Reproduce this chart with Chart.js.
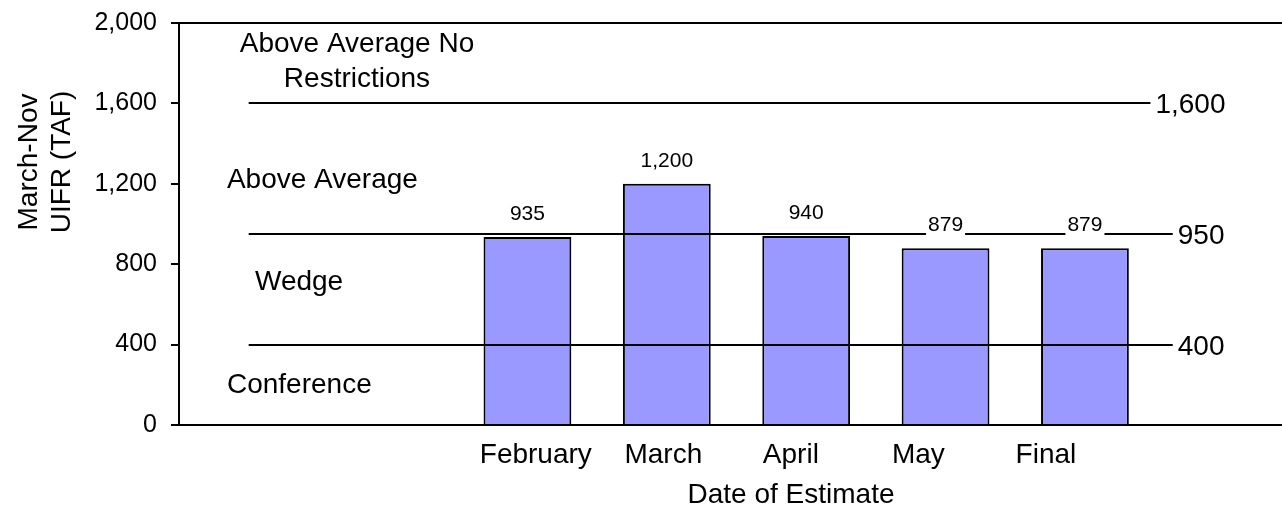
<!DOCTYPE html>
<html>
<head>
<meta charset="utf-8">
<script src="https://cdn.jsdelivr.net/npm/chart.js@4"></script>
<style>
	html, body { margin: 0; padding: 0; background: #fff; overflow: hidden; }
	canvas { display: block; }
</style>
</head>
<body>
<canvas id="grafico" width="1296" height="506"></canvas>
<script>
// dati del grafico (due categorie vuote a sinistra e una a destra, come nell'originale)
const categories = ['', '', 'February', 'March', 'April', 'May', 'Final', ''];
const estimates = [null, null, 935, 1200, 940, 879, 879, null];
const thresholds = [1600, 950, 400];
const zoneLabels = [['Above Average No', 'Restrictions'], ['Above Average'], ['Wedge'], ['Conference']];
const yTicks = [0, 400, 800, 1200, 1600, 2000];
const yTitle = ['March-Nov', 'UIFR (TAF)'];
const xTitle = 'Date of Estimate';

(function(){
	const FONT = "'Liberation Sans', Arial, sans-serif";
	const fmt = v => v.toLocaleString('en-US');

	// etichette dell'asse x: non sono centrate sulle barre nell'originale
	const tickIdx = categories.map((c, i) => c ? i : -1).filter(i => i >= 0);
	const tickPos = tickIdx.map(i => 2.06 + (i - 2) * 0.915);

	// posizioni delle scritte delle zone (in unità di scala)
	const zonePos = [
		{ x: 0.777, y: 1856, align: 'center' },
		{ x: -0.156, y: 1180, align: 'left' },
		{ x: 0.045, y: 673, align: 'left' },
		{ x: -0.156, y: 157, align: 'left' }
	];
	const lineEnds = [6.47, 6.63, 6.63];

	const annotazioni = {
		id: 'annotazioni',
		afterDatasetsDraw(chart){
			const ctx = chart.ctx;
			const x = chart.scales.x, y = chart.scales.y;
			const area = chart.chartArea;
			ctx.save();
			ctx.strokeStyle = '#000';
			ctx.lineWidth = 2;
			ctx.fillStyle = '#000';

			// bordo superiore
			ctx.beginPath();
			ctx.moveTo(area.left - 1, area.top);
			ctx.lineTo(area.right, area.top);
			ctx.stroke();

			// linee di soglia
			ctx.font = '28px ' + FONT;
			ctx.textAlign = 'left';
			ctx.textBaseline = 'middle';
			thresholds.forEach((t, i) => {
				const py = Math.round(y.getPixelForValue(t));
				const x0 = x.getPixelForValue(0);
				const x1 = x.getPixelForValue(lineEnds[i]);
				ctx.beginPath();
				ctx.moveTo(x0, py);
				ctx.lineTo(x1, py);
				ctx.stroke();
				ctx.fillText(fmt(t), x1 + 5, py + 2);
			});

			// valori sopra le barre, con sfondo bianco
			ctx.font = '21px ' + FONT;
			ctx.textAlign = 'center';
			ctx.textBaseline = 'alphabetic';
			chart.getDatasetMeta(0).data.forEach((bar, i) => {
				const v = estimates[i];
				if(v == null) return;
				const txt = fmt(v);
				const w = ctx.measureText(txt).width;
				const by = bar.y - 17;
				ctx.fillStyle = '#fff';
				ctx.fillRect(bar.x - w / 2 - 2, by - 17, w + 4, 22);
				ctx.fillStyle = '#000';
				ctx.fillText(txt, bar.x, by);
			});

			// nomi delle zone
			ctx.font = '28px ' + FONT;
			zoneLabels.forEach((lines, i) => {
				const p = zonePos[i];
				ctx.textAlign = p.align;
				const px = x.getPixelForValue(p.x);
				const py = y.getPixelForValue(p.y);
				lines.forEach((l, k) => ctx.fillText(l, px, py + k * 35));
			});

			// titoli degli assi
			ctx.textAlign = 'center';
			yTitle.forEach((l, k) => {
				ctx.save();
				ctx.translate(37 + k * 33, 162);
				ctx.rotate(-Math.PI / 2);
				ctx.fillText(l, 0, 0);
				ctx.restore();
			});
			ctx.fillText(xTitle, 791, 503);

			ctx.restore();
		}
	};

	function creaGrafico(){
		const canvas = document.getElementById('grafico');
		const ctx = canvas.getContext('2d');
		return new Chart(ctx, {
			type: 'bar',
			data: {
				labels: categories,
				datasets: [{
					data: estimates,
					backgroundColor: '#9999ff',
					borderColor: '#000',
					borderWidth: 2,
					barPercentage: 0.63,
					categoryPercentage: 1
				}]
			},
			options: {
				responsive: false,
				animation: false,
				devicePixelRatio: 1,
				layout: { padding: { top: 23, right: 2, left: 0, bottom: 0 } },
				font: { family: FONT },
				scales: {
					x: { display: false },
					xl: {
						type: 'linear',
						position: 'bottom',
						offset: false,
						min: -0.5,
						max: 7.5,
						afterBuildTicks: s => { s.ticks = tickPos.map(v => ({ value: v })); },
						afterFit: s => { s.height = 81; },
						grid: { display: false, drawTicks: false, offset: false },
						border: { display: true, color: '#000', width: 2 },
						ticks: {
							autoSkip: false,
							maxRotation: 0,
							padding: 13,
							color: '#000',
							font: { family: FONT, size: 28 },
							callback: (v, i) => categories[tickIdx[i]]
						}
					},
					y: {
						min: 0,
						max: 2000,
						afterBuildTicks: s => { s.ticks = yTicks.map(v => ({ value: v })); },
						afterFit: s => { s.width = 179; s.paddingTop = 0; s.paddingBottom = 0; },
						grid: { display: true, drawOnChartArea: false, drawTicks: true, tickLength: 8, color: '#000', lineWidth: 2 },
						border: { display: true, color: '#000', width: 2 },
						ticks: {
							padding: 14,
							color: '#000',
							font: { family: FONT, size: 25 },
							callback: v => fmt(v)
						}
					}
				},
				plugins: {
					legend: { display: false },
					tooltip: { enabled: false }
				}
			},
			plugins: [annotazioni]
		});
	}

	if(document.readyState === 'loading') document.addEventListener('DOMContentLoaded', creaGrafico);
	else creaGrafico();
})();
</script>
</body>
</html>
